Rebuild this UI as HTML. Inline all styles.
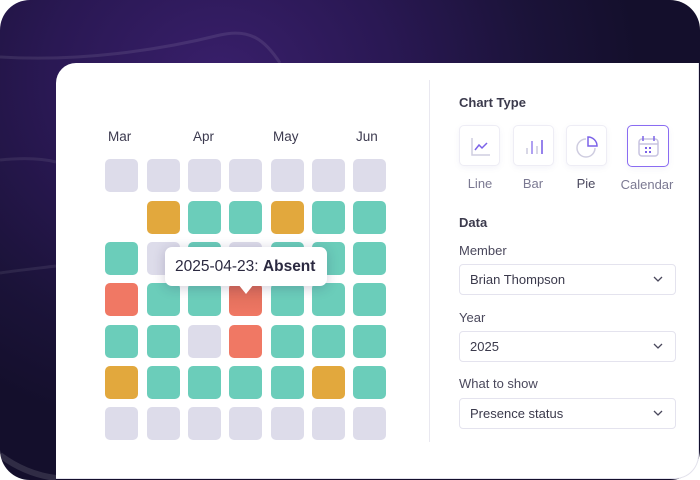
<!DOCTYPE html>
<html><head><meta charset="utf-8"><style>
*{margin:0;padding:0;box-sizing:border-box}
html,body{width:700px;height:480px;overflow:hidden;background:#fff;font-family:"Liberation Sans",sans-serif}
.bg{position:absolute;left:0;top:0;width:700px;height:480px;border-radius:30px;overflow:hidden;
background:radial-gradient(ellipse 420px 360px at 220px 80px,#391f6b 0%,#2a1854 40%,#1b1339 75%,#140f2c 100%)}
.card{position:absolute;left:56px;top:63px;width:643px;height:416px;background:#fff;border:1px solid #e3e2ec;border-left:none;border-top:none;border-radius:20px 0 24px 0}
.cell{position:absolute;width:33px;height:33px;border-radius:5px}
.g{background:#dddcea}.o{background:#e2a83d}.t{background:#6bcdba}.r{background:#f07864}
.mon{position:absolute;top:129px;font-size:13.5px;color:#3c3a4f}
.tip{position:absolute;left:165px;top:247px;width:162px;height:39px;background:#fff;border-radius:7px;box-shadow:0 2px 12px rgba(40,30,80,0.22);font-size:15.5px;color:#2b2940;line-height:39px;padding-left:10px;white-space:nowrap}
.tip:after{content:"";position:absolute;left:73px;top:37px;border-left:8px solid transparent;border-right:8px solid transparent;border-top:10px solid #fff}
.div{position:absolute;left:429px;top:80px;width:1px;height:362px;background:#e9e8f0}
.h{position:absolute;left:459px;font-size:13px;font-weight:bold;color:#3b3a4c}
.ib{position:absolute;top:125px;width:41px;height:41px;border:1px solid #eeedf5;border-radius:5px;background:#fff;box-shadow:0 2px 6px rgba(120,110,180,0.08)}
.ib svg{position:absolute;left:0;top:0}
.il{position:absolute;top:176px;font-size:13px;color:#7b7992;text-align:center;width:60px}
.lbl{position:absolute;left:459px;font-size:13px;color:#4a485c}
.sel{position:absolute;left:459px;width:217px;height:31px;border:1px solid #e4e3ee;border-radius:4px;font-size:13px;color:#3b3a4c;line-height:29px;padding-left:10px}
.sel svg{position:absolute;right:12px;top:11px}
</style></head><body>
<div class="bg">
<svg width="700" height="480" style="position:absolute;left:0;top:0">
<path d="M0 57 C80 62 160 50 220 35 C250 28 265 40 280 63" fill="none" stroke="rgba(255,255,255,0.09)" stroke-width="3"/>
<path d="M0 160 C20 158 40 158 56 162" fill="none" stroke="rgba(255,255,255,0.08)" stroke-width="3"/>
<path d="M0 273 C20 270 40 268 56 266" fill="none" stroke="rgba(255,255,255,0.08)" stroke-width="3"/>
<path d="M0 455 C20 470 40 476 56 478" fill="none" stroke="rgba(255,255,255,0.12)" stroke-width="6"/>
</svg>
</div>
<div class="card"></div>

<div class="mon" style="left:108px">Mar</div>
<div class="mon" style="left:193px">Apr</div>
<div class="mon" style="left:273px">May</div>
<div class="mon" style="left:356px">Jun</div>

<!-- row1 -->
<div class="cell g" style="left:105px;top:159px"></div>
<div class="cell g" style="left:147px;top:159px"></div>
<div class="cell g" style="left:188px;top:159px"></div>
<div class="cell g" style="left:229px;top:159px"></div>
<div class="cell g" style="left:271px;top:159px"></div>
<div class="cell g" style="left:312px;top:159px"></div>
<div class="cell g" style="left:353px;top:159px"></div>
<!-- row2 -->
<div class="cell o" style="left:147px;top:201px"></div>
<div class="cell t" style="left:188px;top:201px"></div>
<div class="cell t" style="left:229px;top:201px"></div>
<div class="cell o" style="left:271px;top:201px"></div>
<div class="cell t" style="left:312px;top:201px"></div>
<div class="cell t" style="left:353px;top:201px"></div>
<!-- row3 -->
<div class="cell t" style="left:105px;top:242px"></div>
<div class="cell g" style="left:147px;top:242px"></div>
<div class="cell t" style="left:188px;top:242px"></div>
<div class="cell g" style="left:229px;top:242px"></div>
<div class="cell t" style="left:271px;top:242px"></div>
<div class="cell t" style="left:312px;top:242px"></div>
<div class="cell t" style="left:353px;top:242px"></div>
<!-- row4 -->
<div class="cell r" style="left:105px;top:283px"></div>
<div class="cell t" style="left:147px;top:283px"></div>
<div class="cell t" style="left:188px;top:283px"></div>
<div class="cell r" style="left:229px;top:283px;background:linear-gradient(#d96a58,#f07864)"></div>
<div class="cell t" style="left:271px;top:283px"></div>
<div class="cell t" style="left:312px;top:283px"></div>
<div class="cell t" style="left:353px;top:283px"></div>
<!-- row5 -->
<div class="cell t" style="left:105px;top:325px"></div>
<div class="cell t" style="left:147px;top:325px"></div>
<div class="cell g" style="left:188px;top:325px"></div>
<div class="cell r" style="left:229px;top:325px"></div>
<div class="cell t" style="left:271px;top:325px"></div>
<div class="cell t" style="left:312px;top:325px"></div>
<div class="cell t" style="left:353px;top:325px"></div>
<!-- row6 -->
<div class="cell o" style="left:105px;top:366px"></div>
<div class="cell t" style="left:147px;top:366px"></div>
<div class="cell t" style="left:188px;top:366px"></div>
<div class="cell t" style="left:229px;top:366px"></div>
<div class="cell t" style="left:271px;top:366px"></div>
<div class="cell o" style="left:312px;top:366px"></div>
<div class="cell t" style="left:353px;top:366px"></div>
<!-- row7 -->
<div class="cell g" style="left:105px;top:407px"></div>
<div class="cell g" style="left:147px;top:407px"></div>
<div class="cell g" style="left:188px;top:407px"></div>
<div class="cell g" style="left:229px;top:407px"></div>
<div class="cell g" style="left:271px;top:407px"></div>
<div class="cell g" style="left:312px;top:407px"></div>
<div class="cell g" style="left:353px;top:407px"></div>

<div class="tip">2025-04-23: <b>Absent</b></div>

<div class="div"></div>

<div class="h" style="top:95px">Chart Type</div>

<div class="ib" style="left:459px">
<svg width="41" height="41"><path d="M12 12 V29 H30" fill="none" stroke="#cfcde0" stroke-width="1.5"/><path d="M15 24 L19 19 L22 22 L27 17" fill="none" stroke="#7b62e8" stroke-width="1.5"/></svg>
</div>
<div class="ib" style="left:513px">
<svg width="41" height="41"><g stroke-width="1.6"><line x1="13" y1="22" x2="13" y2="28" stroke="#cfcde0"/><line x1="18" y1="15" x2="18" y2="28" stroke="#9b89ee"/><line x1="23" y1="20" x2="23" y2="28" stroke="#cfcde0"/><line x1="28" y1="14" x2="28" y2="28" stroke="#7b62e8"/></g></svg>
</div>
<div class="ib" style="left:566px">
<svg width="41" height="41"><path d="M19 13 A9 9 0 1 0 28 22" fill="none" stroke="#cfcde0" stroke-width="1.5"/><path d="M21 11 A9 9 0 0 1 30 20 H21 Z" fill="none" stroke="#7b62e8" stroke-width="1.5"/></svg>
</div>
<div class="ib" style="left:627px;width:42px;height:42px;border:1.5px solid #8a6cf2">
<svg width="41" height="41"><rect x="11" y="13" width="19" height="17" rx="3" fill="none" stroke="#c7c3e0" stroke-width="1.5"/><line x1="11" y1="18" x2="30" y2="18" stroke="#c7c3e0" stroke-width="1.5"/><line x1="15" y1="10" x2="15" y2="15" stroke="#7b62e8" stroke-width="1.5"/><line x1="26" y1="10" x2="26" y2="15" stroke="#7b62e8" stroke-width="1.5"/><g fill="#7b62e8"><rect x="17" y="21" width="2" height="2"/><rect x="21" y="21" width="2" height="2"/><rect x="17" y="25" width="2" height="2"/><rect x="21" y="25" width="2" height="2"/></g></svg>
</div>
<div class="il" style="left:450px">Line</div>
<div class="il" style="left:503px">Bar</div>
<div class="il" style="left:556px;color:#4a485e">Pie</div>
<div class="il" style="left:617px;top:177px">Calendar</div>

<div class="h" style="top:215px">Data</div>
<div class="lbl" style="top:243px">Member</div>
<div class="sel" style="top:264px">Brian Thompson<svg width="10" height="7"><path d="M1 1 L5 5 L9 1" fill="none" stroke="#4a485c" stroke-width="1.3"/></svg></div>
<div class="lbl" style="top:310px">Year</div>
<div class="sel" style="top:331px">2025<svg width="10" height="7"><path d="M1 1 L5 5 L9 1" fill="none" stroke="#4a485c" stroke-width="1.3"/></svg></div>
<div class="lbl" style="top:376px">What to show</div>
<div class="sel" style="top:398px">Presence status<svg width="10" height="7"><path d="M1 1 L5 5 L9 1" fill="none" stroke="#4a485c" stroke-width="1.3"/></svg></div>
</body></html>
